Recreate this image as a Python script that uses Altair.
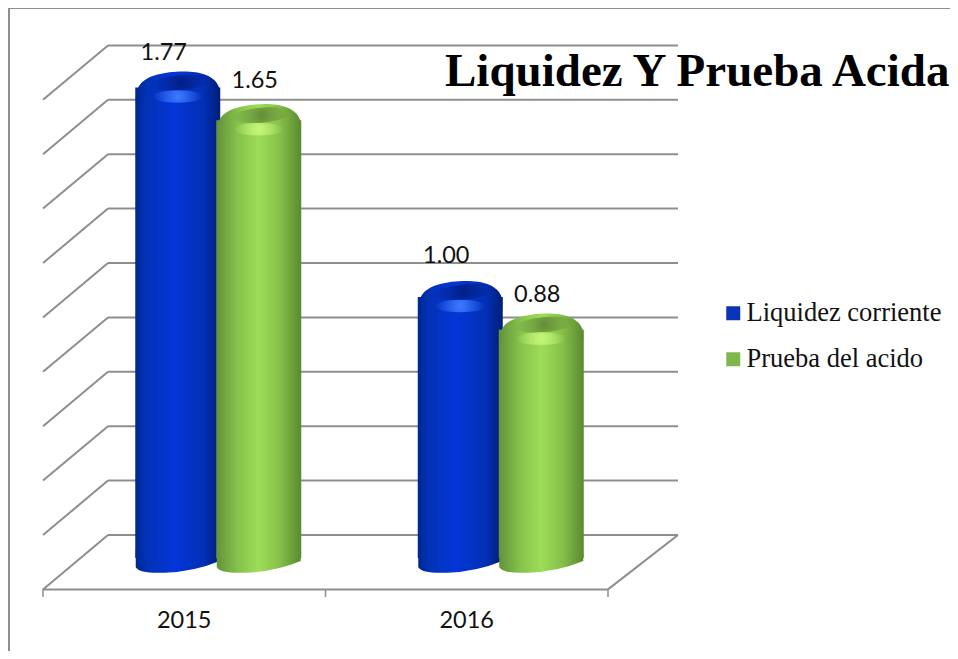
import altair as alt
import pandas as pd

years = ["2015", "2016"]
series = ["Liquidez corriente", "Prueba del acido"]
liquidez = [1.77, 1.00]
prueba = [1.65, 0.88]
grid_values = [0, 0.2, 0.4, 0.6, 0.8, 1.0, 1.2, 1.4, 1.6, 1.8]
title_text = "Liquidez Y Prueba Acida"

W, H = 942, 643
x_scale = alt.Scale(domain=years, range=[35, 600], paddingInner=0, paddingOuter=0)
y_scale = alt.Scale(domain=[(527 - H) / 272, 527 / 272], range=[H, 0], nice=False, zero=False)
X = alt.X("year:N", scale=x_scale, axis=None)
Y = alt.Y("value:Q", scale=y_scale, axis=None)

GREY = "#8e8e8e"
DEPTH = 28  # floor offset of the cylinders, px

def hgrad(stops):
    return alt.Gradient(gradient="linear", x1=0, x2=1, y1=0, y2=0,
                        stops=[alt.GradientStop(offset=o, color=c) for o, c in stops])

def glow(color):
    return alt.Gradient(gradient="radial", x1=0.5, y1=0.5, x2=0.5, y2=0.5, r1=0, r2=0.5,
                        stops=[alt.GradientStop(offset=0, color=color),
                               alt.GradientStop(offset=1, color=color + "00")])

grid_df = pd.DataFrame({"value": grid_values, "front": [v - 0.2 for v in grid_values]})
floor_df = pd.DataFrame({"value": [0], "front": [-0.2]})

wall = alt.Chart(grid_df).mark_rule(color=GREY, strokeWidth=2).encode(
    y=Y, x=alt.value(100), x2=alt.value(670))
diag = alt.Chart(grid_df).mark_rule(color=GREY, strokeWidth=2).encode(
    y=Y, y2=alt.Y2("front:Q"), x=alt.value(100), x2=alt.value(35))
floor_right = alt.Chart(floor_df).mark_rule(color=GREY, strokeWidth=2).encode(
    y=Y, y2=alt.Y2("front:Q"), x=alt.value(670), x2=alt.value(600))
floor_front = alt.Chart(floor_df).mark_rule(color=GREY, strokeWidth=2).encode(
    y=alt.Y("front:Q", scale=y_scale, axis=None), x=alt.value(35), x2=alt.value(600))

tick_df = pd.DataFrame({"px": [35, 317.5, 600]})
ticks = alt.Chart(tick_df).mark_rule(color=GREY, strokeWidth=1.5).encode(
    x=alt.X("px:Q", scale=None), y=alt.value(581), y2=alt.value(589))

border_l = alt.Chart(floor_df).mark_rule(color=GREY, strokeWidth=2).encode(
    x=alt.value(1), y=alt.value(0), y2=alt.value(H))
border_t = alt.Chart(floor_df).mark_rule(color=GREY, strokeWidth=2).encode(
    y=alt.value(0), x=alt.value(1), x2=alt.value(W))

ELLIPSE = "M-1,0 A1,0.25 0 1 1 1,0 A1,0.25 0 1 1 -1,0 Z"
DOME = "M-1,0.42 C-1,0.02 -0.75,-0.14 -0.2,-0.22 C0.25,-0.27 0.9,-0.26 1,0.2 L1,0.42 Z"
FOOT = "M-1,-0.3 L1,-0.3 L1,-0.05 Q0.4,0.2 -0.3,0.23 Q-0.9,0.26 -1,0.1 Z"
SHAPE_SIZE = 84 ** 2

def cylinder(vals, dx, label_dx, label_dys, body, inner, light):
    df = pd.DataFrame({"year": years, "value": vals, "zero": [0, 0]})
    base = alt.Chart(df)
    foot = base.mark_point(shape=FOOT, size=SHAPE_SIZE, filled=True, opacity=1,
                           fill=body, strokeWidth=0, xOffset=dx, yOffset=DEPTH).encode(
        x=X, y=alt.Y("zero:Q", scale=y_scale, axis=None))
    cyl = base.mark_bar(width=85, xOffset=dx, yOffset=DEPTH + 6, y2Offset=DEPTH - 5, fill=body).encode(
        x=X, y=Y, y2=alt.Y2("zero:Q"))
    top = base.mark_point(shape=DOME, size=SHAPE_SIZE, filled=True, opacity=1, fill=body, strokeWidth=0,
                          xOffset=dx, yOffset=DEPTH).encode(x=X, y=Y)
    cap = base.mark_point(shape=ELLIPSE, size=60 ** 2, filled=True, opacity=1, fill=glow(inner), strokeWidth=0,
                          xOffset=dx + 3, yOffset=DEPTH + 1, angle=355).encode(x=X, y=Y)
    hi = base.mark_point(shape=ELLIPSE, size=50 ** 2, filled=True, opacity=1, fill=glow(light), strokeWidth=0,
                         xOffset=dx, yOffset=DEPTH + 15).encode(x=X, y=Y)
    labels = []
    for i in range(len(years)):
        labels.append(alt.Chart(df.iloc[[i]]).mark_text(
            font="Lato", fontSize=23.5, color="#111111", baseline="bottom",
            dx=dx + label_dx, dy=DEPTH + label_dys[i]).encode(
            x=X, y=Y, text=alt.Text("value:Q", format=".2f")))
    return [foot, cyl, top, cap, hi] + labels

blue = cylinder(liquidez, -6.5, -14, [-17, -23],
                hgrad([(0, "#00278f"), (0.12, "#0232b4"), (0.45, "#0436d8"), (0.8, "#0230b6"), (1, "#001e78")]),
                "#011f85", "#3f7cff")
green = cylinder(prueba, 74.5, -4, [-21, -17],
                 hgrad([(0, "#63923a"), (0.25, "#86c24c"), (0.5, "#9ddd58"), (0.75, "#86c04a"), (1, "#5a8a30")]),
                 "#628c36", "#c6f57a")

year_labels = alt.Chart(pd.DataFrame({"year": years})).mark_text(
    font="Lato", fontSize=23.5, color="#111111").encode(x=X, y=alt.value(613), text="year:N")

legend_layer = alt.Chart(pd.DataFrame({"serie": series})).mark_square(size=0, opacity=1).encode(
    color=alt.Color("serie:N",
                    scale=alt.Scale(domain=series, range=["#0a35b5", "#7fb84a"]),
                    legend=alt.Legend(orient="none", legendX=712, legendY=292, title=None,
                                      symbolType="square", symbolSize=196, symbolOpacity=1,
                                      labelFont="Liberation Serif", labelFontSize=26.5, labelColor="#111111",
                                      labelOffset=0, rowPadding=19, labelLimit=260)))

layers = [border_l, border_t, wall, diag, floor_right, floor_front, ticks] + blue + green + [year_labels, legend_layer]
chart = alt.layer(*layers).properties(
    width=W, height=H, padding=0,
    autosize=alt.AutoSizeParams(type="none"),
    background="white",
    title=alt.TitleParams(title_text, font="Liberation Serif", fontSize=47, fontWeight="bold",
                          color="#000000", anchor="start", orient="top", dx=437, dy=89, offset=0),
).configure_view(stroke=None)

chart.save("out.html", embed_options={"renderer": "svg", "actions": False})
